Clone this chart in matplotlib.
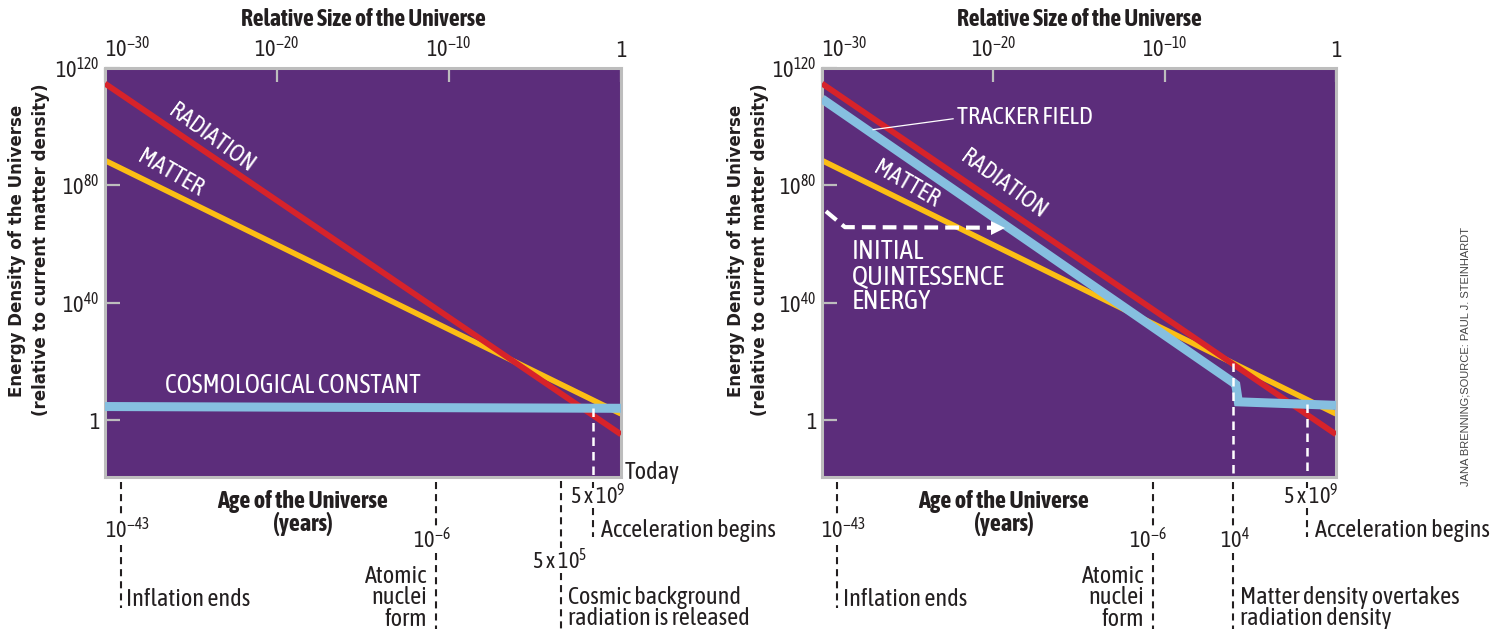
import matplotlib
matplotlib.use("Agg")
import matplotlib.pyplot as plt
import matplotlib.transforms as mtransforms
import numpy as np
from matplotlib import font_manager

# x: log10 of relative size of the universe, y: log10 of energy density
size_ticks = [-30, -20, -10, 0]
size_labels = [r"$\mathregular{10^{-30}}$", r"$\mathregular{10^{-20}}$",
               r"$\mathregular{10^{-10}}$", "1"]
density_ticks = [0, 40, 80, 120]
density_labels = ["1", r"$\mathregular{10^{40}}$", r"$\mathregular{10^{80}}$",
                  r"$\mathregular{10^{120}}$"]

radiation_x = [-30, 0]
radiation_y = [114.7, -4.8]
matter_x = [-30, 0]
matter_y = [88.5, 2.2]
cosmo_x = [-30, 0]
cosmo_y = [4.7, 4.1]
tracker_x = [-30, -6.0, -5.85, -5.7, 0]
tracker_y = [109.5, 12.9, 12.2, 6.3, 5.1]
quint_x = [-29.77, -28.66, -19.75]
quint_y = [71.2, 65.8, 65.6]

# epochs marked under the panels (log10 of size where the marker sits)
left_epoch_x = [-29.07, -10.76, -3.5, -1.63]
right_epoch_x = [-29.1, -10.7, -6.0, -1.7]
left_ages = [r"$\mathregular{10^{-43}}$", r"$\mathregular{10^{-6}}$",
             r"5 x $\mathregular{10^{5}}$", r"5 x $\mathregular{10^{9}}$"]
right_ages = [r"$\mathregular{10^{-43}}$", r"$\mathregular{10^{-6}}$",
              r"$\mathregular{10^{4}}$", r"5 x $\mathregular{10^{9}}$"]
left_events = ["Inflation ends", "Atomic\nnuclei\nform",
               "Cosmic background\nradiation is released", "Acceleration begins"]
right_events = ["Inflation ends", "Atomic\nnuclei\nform",
                "Matter density overtakes\nradiation density", "Acceleration begins"]

PURPLE = "#5c2d7b"
RED = "#d7232a"
YELLOW = "#fcbe14"
BLUE = "#86bfe0"
BORDER = "#bdbdbd"
INK = "#231f20"


def wnum(w):
    return w if isinstance(w, (int, float)) else font_manager.weight_dict.get(w, 400)


# pick a narrow face if one is installed, preferably one that has a bold cut
fonts = font_manager.fontManager.ttflist
weights = {}
for f in fonts:
    if "Narrow" in f.name or "Condensed" in f.name:
        weights.setdefault(f.name, set()).add(wnum(f.weight))
NARROW = "Liberation Sans"
if weights:
    with_bold = [n for n, ws in weights.items() if max(ws) >= 600 and min(ws) <= 450]
    NARROW = sorted(with_bold)[0] if with_bold else sorted(weights)[0]
BOLD_NARROW = NARROW if max(weights.get(NARROW, {0})) >= 600 else "Liberation Sans"

plt.rcParams["font.family"] = [NARROW, "DejaVu Sans"]
plt.rcParams["mathtext.fontset"] = "custom"
plt.rcParams["mathtext.rm"] = NARROW
plt.rcParams["mathtext.it"] = NARROW + ":italic"
plt.rcParams["mathtext.bf"] = NARROW + ":bold"

W, H = 1494.0, 629.0


def fy(p):
    # pixel row (from top) -> figure fraction
    return 1 - p / H


fig = plt.figure(figsize=(W / 100, H / 100), dpi=100)
ax1 = fig.add_axes([105 / W, fy(477), 516 / W, 409 / H])
ax2 = fig.add_axes([822 / W, fy(477), 514 / W, 409 / H])

TXT = 17.5
AGE = 16

for ax in (ax1, ax2):
    ax.set_facecolor(PURPLE)
    ax.set_xlim(-30, 0)
    ax.set_ylim(-19.3, 119.6)
    for s in ax.spines.values():
        s.set_color(BORDER)
        s.set_linewidth(2.2)
    ax.xaxis.tick_top()
    ax.set_xticks(size_ticks, size_labels)
    ax.set_yticks(density_ticks, density_labels)
    ax.tick_params(direction="in", length=10, width=1.6, color=BORDER,
                   labelsize=16, labelcolor=INK, pad=4)
    ax.tick_params(axis="y", length=11)
    ax.get_xticklabels()[0].set_ha("left")
    ax.text(0.5, fy(19), "Relative Size of the Universe",
            transform=mtransforms.blended_transform_factory(ax.transAxes, fig.transFigure),
            ha="center", va="center", fontsize=17, fontweight="bold",
            family=[BOLD_NARROW, "DejaVu Sans"], color=INK)
    ax.plot(radiation_x, radiation_y, color=RED, lw=4.2, solid_capstyle="butt", zorder=3)
    ax.plot(matter_x, matter_y, color=YELLOW, lw=4.0, solid_capstyle="butt", zorder=2)

# left panel
ax1.plot(cosmo_x, cosmo_y, color=BLUE, lw=6.5, solid_capstyle="butt", zorder=4)
ax1.text(-23.8, 95.9, "RADIATION", rotation=-36, color="white", fontsize=17.5,
         ha="center", va="center")
ax1.text(-26.2, 84.1, "MATTER", rotation=-30, color="white", fontsize=17.5,
         ha="center", va="center")
ax1.text(-26.5, 11.9, "COSMOLOGICAL CONSTANT", color="white", fontsize=18.5,
         ha="left", va="center")

# right panel
ax2.plot(tracker_x, tracker_y, color=BLUE, lw=6.5, solid_joinstyle="miter",
         solid_capstyle="butt", zorder=4)
ax2.text(-22.1, 103.1, "TRACKER FIELD", color="white", fontsize=18,
         ha="left", va="center")
ax2.plot([-27.02, -22.35], [99.0, 102.7], color="white", lw=0.9, zorder=5)
ax2.text(-25.1, 80.3, "MATTER", rotation=-30, color="white", fontsize=17.5,
         ha="center", va="center")
ax2.text(-19.4, 80.3, "RADIATION", rotation=-36, color="white", fontsize=17.5,
         ha="center", va="center")
ax2.plot(quint_x, quint_y, color="white", lw=3.0, dashes=(3.3, 1.7), zorder=5)
ax2.plot(quint_x[-1], quint_y[-1], marker=">", color="white", ms=10, mew=0, zorder=5)
ax2.text(-28.25, 49.0, "INITIAL\nQUINTESSENCE\nENERGY", color="white", fontsize=19.5,
         ha="left", va="center", linespacing=0.98)

for ax, cx in ((ax1, -18.5), (ax2, -19.4)):
    ax.text(cx, fy(513), "Age of the Universe\n(years)",
            transform=mtransforms.blended_transform_factory(ax.transData, fig.transFigure),
            ha="center", va="center", fontsize=17.5, fontweight="bold",
            family=[BOLD_NARROW, "DejaVu Sans"], color=INK, linespacing=0.95)
ax1.text(0.2, fy(473), "Today",
         transform=mtransforms.blended_transform_factory(ax1.transData, fig.transFigure),
         ha="left", va="center", fontsize=TXT, color=INK)

DASH = (3.4, 2.4)


def vseg(ax, x, p0, p1):
    tr = mtransforms.blended_transform_factory(ax.transData, fig.transFigure)
    ax.plot([x, x], [fy(p0), fy(p1)], transform=tr, color=INK, lw=1.5,
            dashes=DASH, clip_on=False)


def label(ax, x, p, s, ha, size):
    tr = mtransforms.blended_transform_factory(ax.transData, fig.transFigure)
    ax.text(x, fy(p), s, transform=tr, ha=ha, va="center", fontsize=size,
            color=INK, linespacing=0.92)


def epochs(ax, xs, ages, events, third_top):
    # inflation
    x = xs[0]
    vseg(ax, x, 482, 518)
    label(ax, x + 0.35, 531, ages[0], "center", AGE)
    vseg(ax, x, 545, 608)
    label(ax, x + 0.3, 599, events[0], "left", TXT)
    # atomic nuclei
    x = xs[1]
    vseg(ax, x, 482, 527)
    label(ax, x - 0.25, 541, ages[1], "center", AGE)
    vseg(ax, x, 553, 629)
    label(ax, x - 0.5, 598, events[1], "right", TXT)
    # third marker
    x = xs[2]
    if third_top is not None:
        ax.plot([x, x], [third_top, -19.3], color="white", lw=1.8, dashes=DASH, zorder=6)
        vseg(ax, x, 482, 527)
        label(ax, x + 0.1, 541, ages[2], "center", AGE)
        vseg(ax, x, 553, 629)
    else:
        vseg(ax, x, 481, 548)
        label(ax, x - 0.1, 562, ages[2], "center", AGE)
        vseg(ax, x, 573, 629)
    label(ax, x + 0.4, 608, events[2], "left", TXT)
    # acceleration begins
    x = xs[3]
    top = np.interp(x, cosmo_x, cosmo_y) if third_top is None else np.interp(x, tracker_x, tracker_y)
    ax.plot([x, x], [top, -19.3], color="white", lw=1.8, dashes=DASH, zorder=6)
    vseg(ax, x, 482, 488)
    label(ax, x + 0.25, 497, ages[3], "center", AGE)
    vseg(ax, x, 508, 537)
    label(ax, x + 0.45, 530, events[3], "left", TXT)


epochs(ax1, left_epoch_x, left_ages, left_events, None)
epochs(ax2, right_epoch_x, right_ages, right_events,
       np.interp(right_epoch_x[2], matter_x, matter_y))

for xp in (17, 736):
    fig.text(xp / W, fy(251), "Energy Density of the Universe", rotation=90,
             ha="center", va="center", fontsize=12, fontweight="bold",
             family="DejaVu Sans", color=INK)
    fig.text((xp + 24) / W, fy(250), "(relative to current matter density)", rotation=90,
             ha="center", va="center", fontsize=12, fontweight="bold",
             family="DejaVu Sans", color=INK)

fig.text(1465 / W, fy(356), "JANA BRENNING;SOURCE: PAUL J. STEINHARDT", rotation=90,
         ha="center", va="center", fontsize=8, family="Liberation Sans", color="#444444")

fig.savefig("out.png", dpi=100, facecolor="white")
